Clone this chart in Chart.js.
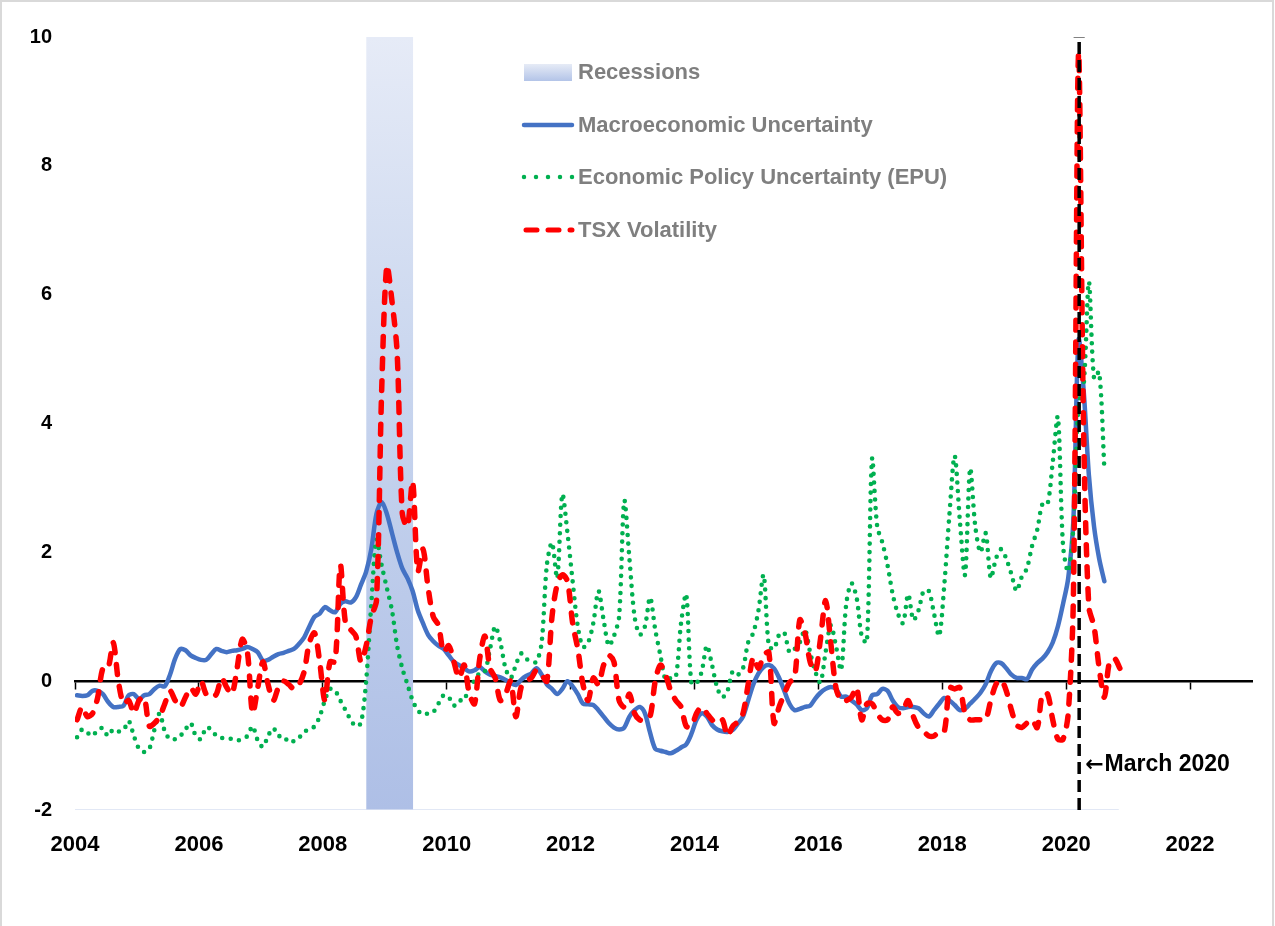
<!DOCTYPE html>
<html>
<head>
<meta charset="utf-8">
<script src="https://cdn.jsdelivr.net/npm/chart.js@4.4.1/dist/chart.umd.min.js"></script>
<style>
html,body{margin:0;padding:0;background:#ffffff;}
canvas{display:block;}
</style>
</head>
<body>
<canvas id="chart" width="1275" height="926"></canvas>
<script>
// ---------------- data (monthly, starting January 2004) ----------------
const startYear = 2004;

const macroUncertainty = [
  -0.22,-0.23,-0.22,-0.15,-0.15,-0.20,-0.32,-0.40,-0.40,-0.38,-0.22,-0.20,
  -0.28,-0.22,-0.20,-0.12,-0.07,-0.08, 0.10, 0.35, 0.50, 0.48, 0.40, 0.36,
   0.33, 0.33, 0.42, 0.50, 0.47, 0.45, 0.47, 0.48, 0.50, 0.53, 0.50, 0.45,
   0.32, 0.33, 0.38, 0.42, 0.44, 0.47, 0.50, 0.58, 0.68, 0.85, 1.00, 1.05,
   1.15, 1.10, 1.07, 1.20, 1.24, 1.22, 1.30, 1.50, 1.70, 2.05, 2.60, 2.78,
   2.60, 2.30, 2.00, 1.75, 1.60, 1.40, 1.10, 0.90, 0.72, 0.62, 0.55, 0.50,
   0.40, 0.30, 0.25, 0.20, 0.15, 0.17, 0.22, 0.15, 0.10, 0.08, 0.06, 0.02,
  -0.03,-0.06, 0.02, 0.08, 0.12, 0.20, 0.10,-0.05,-0.12,-0.20,-0.12, 0.00,
  -0.08,-0.20,-0.35,-0.36,-0.37,-0.45,-0.55,-0.65,-0.72,-0.75,-0.72,-0.55,
  -0.45,-0.40,-0.50,-0.80,-1.05,-1.08,-1.10,-1.12,-1.08,-1.03,-0.98,-0.82,
  -0.60,-0.50,-0.55,-0.68,-0.75,-0.78,-0.79,-0.76,-0.66,-0.55,-0.30,-0.05,
   0.12, 0.22, 0.25, 0.20, 0.05,-0.15,-0.35,-0.45,-0.43,-0.40,-0.38,-0.27,
  -0.18,-0.12,-0.09,-0.12,-0.24,-0.24,-0.30,-0.36,-0.45,-0.42,-0.22,-0.20,
  -0.12,-0.15,-0.30,-0.40,-0.42,-0.40,-0.40,-0.42,-0.50,-0.55,-0.45,-0.35,
  -0.26,-0.30,-0.37,-0.45,-0.43,-0.35,-0.27,-0.18,-0.05, 0.15, 0.28, 0.28,
   0.20, 0.10, 0.05, 0.05, 0.03, 0.18, 0.28, 0.35, 0.45, 0.60, 0.85, 1.20,
   1.60, 2.50, 5.30, 4.50, 3.20, 2.40, 1.90, 1.55
];

const epu = [
  -0.87,-0.75,-0.80,-0.85,-0.75,-0.73,-0.85,-0.75,-0.78,-0.76,-0.62,-0.85,
  -1.05,-1.10,-1.05,-0.75,-0.50,-0.78,-0.90,-0.90,-0.85,-0.75,-0.65,-0.85,
  -0.90,-0.72,-0.75,-0.85,-0.88,-0.88,-0.90,-0.92,-0.90,-0.85,-0.70,-0.92,
  -1.02,-0.85,-0.73,-0.85,-0.85,-0.95,-0.93,-0.88,-0.78,-0.76,-0.70,-0.55,
  -0.30,-0.12,-0.15,-0.30,-0.45,-0.60,-0.70,-0.65, 0.00, 1.20, 2.20, 1.80,
   1.45, 1.10, 0.55, 0.20,-0.05,-0.30,-0.45,-0.52,-0.50,-0.48,-0.35,-0.22,
  -0.25,-0.38,-0.30,-0.30,-0.05, 0.00, 0.13, 0.15, 0.50, 0.85, 0.60, 0.20,
   0.05, 0.25, 0.43, 0.35, 0.30, 0.30, 0.60, 1.80, 2.15, 1.60, 2.90, 2.30,
   1.55, 0.85, 0.53, 0.60, 0.90, 1.40, 0.95, 0.55, 0.70, 1.00, 2.80, 1.90,
   1.00, 0.72, 0.85, 1.30, 0.80, 0.40, 0.02, 0.05, 0.07, 0.90, 1.35,-0.03,
  -0.03, 0.15, 0.55, 0.25,-0.10,-0.25,-0.15, 0.15, 0.10, 0.20, 0.60, 0.75,
   1.10, 1.65, 0.55, 0.50, 0.72, 0.75, 0.45, 0.50, 0.60, 0.80, 0.45, 0.15,
  -0.02, 0.45, 0.87, 0.55, 0.17, 1.20, 1.52, 1.30, 0.70, 0.60, 3.45, 2.40,
   2.15, 1.80, 1.35, 1.05, 0.90, 1.35, 0.95, 1.10, 1.40, 1.40, 1.05, 0.70,
   1.50, 2.60, 3.50, 2.50, 1.65, 3.30, 2.40, 2.00, 2.30, 1.60, 1.90, 2.05,
   1.90, 1.66, 1.40, 1.62, 1.75, 2.10, 2.35, 2.75, 2.75, 3.40, 4.10, 2.10,
   1.70, 2.40, 4.30, 4.60, 6.20, 4.70, 4.80, 3.30
];

const tsxVolatility = [
  -0.60,-0.40,-0.55,-0.50,-0.25, 0.20, 0.20, 0.60, 0.00,-0.35,-0.30,-0.50,
  -0.30,-0.25,-0.70,-0.65,-0.55,-0.35,-0.15,-0.30,-0.40,-0.25,-0.10,-0.20,
   0.00,-0.20,-0.25,-0.20, 0.05,-0.10,-0.20, 0.20, 0.65, 0.45,-0.50,-0.10,
   0.30,-0.05,-0.30,-0.10, 0.00,-0.05,-0.12,-0.05, 0.15, 0.60, 0.75, 0.30,
  -0.30, 0.30, 0.30, 1.80, 0.90, 0.80, 0.70, 0.30, 0.55, 1.00, 1.25, 4.50,
   6.45, 5.90, 5.10, 2.60, 2.40, 3.10, 1.70, 2.05, 1.45, 1.00, 0.87, 0.45,
   0.55, 0.30, 0.05, 0.25,-0.20,-0.35, 0.35, 0.70, 0.20, 0.05,-0.30,-0.20,
   0.00,-0.55,-0.10, 0.00, 0.05, 0.17, 0.10, 0.00, 1.00, 1.50, 1.65, 1.55,
   0.90, 0.50,-0.05,-0.30, 0.05,-0.05, 0.25, 0.40, 0.30,-0.30,-0.40,-0.20,
  -0.50,-0.60,-0.60,-0.55, 0.00, 0.25, 0.10,-0.15,-0.30,-0.40,-0.70,-0.70,
  -0.50,-0.40,-0.50,-0.60,-0.65,-0.60,-0.85,-0.70,-0.63,-0.50,-0.05, 0.37,
   0.20, 0.40, 0.45,-0.65,-0.40,-0.20,-0.02, 0.05, 0.95, 0.75, 0.30, 0.15,
   0.65, 1.25, 0.60,-0.10,-0.30,-0.30,-0.25,-0.10,-0.60,-0.35,-0.35,-0.50,
  -0.60,-0.60,-0.40,-0.50,-0.45,-0.30,-0.55,-0.72,-0.78,-0.85,-0.85,-0.78,
  -0.78,-0.10,-0.12,-0.10,-0.50,-0.60,-0.60,-0.60,-0.60,-0.30,-0.05, 0.02,
  -0.15,-0.45,-0.68,-0.72,-0.65,-0.60,-0.72,-0.20,-0.20,-0.60,-0.90,-0.90,
  -0.50, 1.30, 9.75, 3.80, 1.15, 0.85, 0.20,-0.25, 0.30, 0.35, 0.20
];

const xTickValues = [2004, 2006, 2008, 2010, 2012, 2014, 2016, 2018, 2020, 2022];
const yTickValues = [-2, 0, 2, 4, 6, 8, 10];
const xRange = [2004, 2023];
const recessionPeriod = [2008.70, 2009.46];
const march2020 = 2020.21;
const baselineEnd = 2020.85;
const annotationArrow = '\u2190';
const annotationLabel = 'March 2020';
const annotationY = -1.3;
const seriesLabels = ['Recessions', 'Macroeconomic Uncertainty', 'Economic Policy Uncertainty (EPU)', 'TSX Volatility'];

// ---------------- helpers ----------------
const toPoints = vals => vals.map((v, i) => ({ x: startYear + (i + 0.4) / 12, y: v }));
const yMin = yTickValues[0], yMax = yTickValues[yTickValues.length - 1];

const COLORS = { macro: '#4472c4', epu: '#00b050', tsx: '#ff0000' };

function recessionFill(context) {
  const chart = context.chart;
  const area = chart.chartArea;
  if (!area) return 'rgba(180,198,231,0.9)';
  const g = chart.ctx.createLinearGradient(0, area.top, 0, area.bottom);
  g.addColorStop(0, '#e6ebf7');
  g.addColorStop(0.45, '#c8d5ee');
  g.addColorStop(1, '#aebfe6');
  return g;
}

const overlayPlugin = {
  id: 'overlay',
  afterDraw(chart) {
    const { ctx, chartArea, scales } = chart;
    ctx.save();
    ctx.strokeStyle = '#d9d9d9';
    ctx.lineWidth = 2;
    ctx.beginPath();
    ctx.moveTo(1, 926); ctx.lineTo(1, 1); ctx.lineTo(1273, 1); ctx.lineTo(1273, 926);
    ctx.stroke();

    const sx0 = chartArea.left + 449, sx1 = chartArea.left + 497, tx = chartArea.left + 503;
    const rows = [35, 88, 140, 193].map(v => chartArea.top + v);
    ctx.font = "bold 22px 'Liberation Sans', Arial, sans-serif";
    ctx.textBaseline = 'middle';
    ctx.textAlign = 'left';
    const sg = ctx.createLinearGradient(0, rows[0] - 8, 0, rows[0] + 9);
    sg.addColorStop(0, '#e6ebf6'); sg.addColorStop(1, '#b3c4e8');
    ctx.fillStyle = sg;
    ctx.fillRect(sx0, rows[0] - 8, sx1 - sx0, 17);
    ctx.lineCap = 'round';
    ctx.strokeStyle = COLORS.macro; ctx.lineWidth = 4.5; ctx.setLineDash([]);
    ctx.beginPath(); ctx.moveTo(sx0, rows[1]); ctx.lineTo(sx1, rows[1]); ctx.stroke();
    ctx.strokeStyle = COLORS.epu; ctx.lineWidth = 4.5; ctx.setLineDash([0, 12]);
    ctx.beginPath(); ctx.moveTo(sx0, rows[2]); ctx.lineTo(sx1 + 1, rows[2]); ctx.stroke();
    ctx.strokeStyle = COLORS.tsx; ctx.lineWidth = 5; ctx.setLineDash([11, 11]);
    ctx.beginPath(); ctx.moveTo(sx0 + 2, rows[3]); ctx.lineTo(sx1, rows[3]); ctx.stroke();
    ctx.setLineDash([]);
    ctx.fillStyle = '#7f7f7f';
    seriesLabels.forEach((t, i) => ctx.fillText(t, tx, rows[i] + 1));

    ctx.fillStyle = '#000000';
    const ax = scales.x.getPixelForValue(march2020) + 6;
    const ay = scales.y.getPixelForValue(annotationY);
    ctx.font = "bold 22px 'DejaVu Sans', sans-serif";
    ctx.fillText(annotationArrow, ax, ay);
    const aw = ctx.measureText(annotationArrow).width;
    ctx.font = "bold 23px 'Liberation Sans', Arial, sans-serif";
    ctx.fillText(annotationLabel, ax + aw + 1, ay);
    ctx.restore();
  }
};

const lineBase = { pointRadius: 0, pointHoverRadius: 0, fill: false, tension: 0.3 };
const xLabelFont = { family: "'Liberation Sans', Arial, sans-serif", size: 22, weight: 'bold' };

new Chart(document.getElementById('chart'), {
  type: 'line',
  data: {
    datasets: [
      { label: 'March 2020 cap', data: [{ x: march2020 - 0.09, y: yMax }, { x: march2020 + 0.09, y: yMax }],
        borderColor: '#595959', borderWidth: 1.5, pointRadius: 0, tension: 0 },
      { label: 'March 2020', data: [{ x: march2020, y: yMin }, { x: march2020, y: yMax }],
        borderColor: '#000000', borderWidth: 3.5, borderDash: [12, 6], pointRadius: 0, tension: 0 },
      { ...lineBase, label: seriesLabels[3], data: toPoints(tsxVolatility),
        borderColor: COLORS.tsx, borderWidth: 5.5, borderDash: [10, 12], borderCapStyle: 'round' },
      { ...lineBase, label: seriesLabels[2], data: toPoints(epu),
        borderColor: COLORS.epu, borderWidth: 4.6, borderDash: [0, 8.5], borderCapStyle: 'round' },
      { ...lineBase, label: seriesLabels[1], data: toPoints(macroUncertainty),
        borderColor: COLORS.macro, borderWidth: 4.5, borderCapStyle: 'round', borderJoinStyle: 'round' },
      { label: 'baseline', data: [{ x: xRange[0], y: yMin }, { x: baselineEnd, y: yMin }],
        borderColor: '#d9e1f2', borderWidth: 1.5, pointRadius: 0, tension: 0 },
      { label: seriesLabels[0], data: [{ x: recessionPeriod[0], y: yMax }, { x: recessionPeriod[1], y: yMax }],
        borderWidth: 0, borderColor: 'rgba(0,0,0,0)', backgroundColor: recessionFill,
        fill: { value: yMin }, pointRadius: 0, tension: 0 }
    ]
  },
  options: {
    responsive: false,
    devicePixelRatio: 1,
    animation: false,
    events: [],
    layout: { padding: { top: 37, right: 23, left: 0, bottom: 0 } },
    plugins: { legend: { display: false }, tooltip: { enabled: false } },
    scales: {
      x: {
        type: 'linear', min: xRange[0], max: xRange[1],
        position: { y: 0 },
        afterBuildTicks: s => { s.ticks = xTickValues.map(v => ({ value: v })); },
        afterFit: s => { s.height = 0; },
        ticks: { display: false },
        grid: { display: true, drawOnChartArea: false, drawTicks: true, tickLength: 7, tickColor: '#000000', tickWidth: 1.5 },
        border: { display: true, color: '#000000', width: 2.5 }
      },
      xl: {
        type: 'linear', min: xRange[0], max: xRange[1], position: 'bottom',
        afterBuildTicks: s => { s.ticks = xTickValues.map(v => ({ value: v })); },
        afterFit: s => { s.height = 116; },
        ticks: { color: '#000000', padding: 22, maxRotation: 0, autoSkip: false,
                 callback: v => String(v), font: xLabelFont },
        grid: { display: false, drawTicks: false },
        border: { display: false }
      },
      y: {
        type: 'linear', min: yMin, max: yMax, position: 'left',
        afterBuildTicks: s => { s.ticks = yTickValues.map(v => ({ value: v })); },
        afterFit: s => { s.width = 75; },
        ticks: { color: '#000000', padding: 23, callback: v => String(v),
                 font: { family: "'Liberation Sans', Arial, sans-serif", size: 20, weight: 'bold' } },
        grid: { display: false, drawTicks: false },
        border: { display: false }
      }
    }
  },
  plugins: [overlayPlugin]
});
</script>
</body>
</html>
